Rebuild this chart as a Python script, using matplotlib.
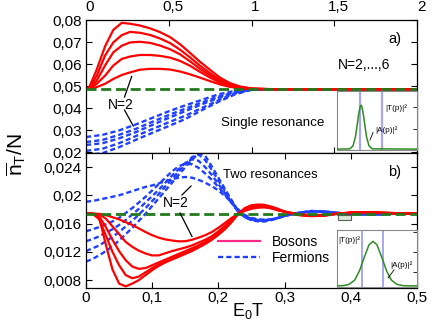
import matplotlib
matplotlib.use('Agg')
import matplotlib.pyplot as plt
import matplotlib.transforms as mtransforms
from matplotlib.lines import Line2D
from matplotlib.patches import Rectangle

plt.rcParams['font.family'] = ['Liberation Sans', 'DejaVu Sans']
plt.rcParams['mathtext.fontset'] = 'custom'
plt.rcParams['mathtext.rm'] = 'Liberation Sans'
plt.rcParams['mathtext.it'] = 'Liberation Sans'
plt.rcParams['mathtext.default'] = 'regular'

# ---------------- data: panel a) single resonance ----------------
top_base = 0.0485
top_red_x = [0, 0.02, 0.065, 0.115, 0.165, 0.216, 0.266, 0.326, 0.387, 0.447, 0.508, 0.568,
             0.629, 0.689, 0.75, 0.81, 0.87, 0.93, 1.0, 1.1, 1.3, 1.6, 2.0]
top_red_N2 = [0.0485, 0.0486, 0.0495, 0.0510, 0.0532, 0.0550, 0.0562, 0.0574, 0.0578, 0.0578, 0.0575, 0.0566,
              0.0553, 0.0538, 0.0522, 0.0507, 0.0496, 0.0490, 0.0486, 0.0485, 0.0485, 0.0485, 0.0485]
top_red_N3 = [0.0485, 0.0487, 0.0510, 0.0547, 0.0593, 0.0623, 0.0634, 0.0641, 0.0641, 0.0637, 0.0629, 0.0614,
              0.0592, 0.0564, 0.0538, 0.0515, 0.0500, 0.0491, 0.0487, 0.0485, 0.0485, 0.0485, 0.0485]
top_red_N4 = [0.0485, 0.0488, 0.0525, 0.0593, 0.0653, 0.0683, 0.0698, 0.0701, 0.0696, 0.0684, 0.0667, 0.0644,
              0.0612, 0.0578, 0.0548, 0.0522, 0.0504, 0.0493, 0.0487, 0.0486, 0.0485, 0.0485, 0.0485]
top_red_N5 = [0.0485, 0.0490, 0.0547, 0.0638, 0.0698, 0.0731, 0.0746, 0.0742, 0.0732, 0.0716, 0.0695, 0.0665,
              0.0630, 0.0592, 0.0558, 0.0528, 0.0507, 0.0495, 0.0488, 0.0486, 0.0485, 0.0485, 0.0485]
top_red_N6 = [0.0485, 0.0495, 0.0575, 0.0680, 0.0755, 0.0787, 0.0783, 0.0775, 0.0762, 0.0745, 0.0722, 0.0690,
              0.0650, 0.0610, 0.0573, 0.0538, 0.0513, 0.0498, 0.0489, 0.0486, 0.0485, 0.0485, 0.0485]

top_blue_x = [0, 0.1, 0.2, 0.3, 0.4, 0.5, 0.6, 0.7, 0.8, 0.9, 1.0, 1.1, 1.3, 1.6, 2.0]
top_blue_N2 = [0.0268, 0.0278, 0.0298, 0.0325, 0.0355, 0.0385, 0.0412, 0.0437, 0.0462, 0.0478, 0.0485, 0.0485, 0.0485, 0.0485, 0.0485]
top_blue_N3 = [0.0245, 0.0255, 0.0278, 0.0305, 0.0337, 0.0368, 0.0397, 0.0425, 0.0452, 0.0473, 0.0484, 0.0485, 0.0485, 0.0485, 0.0485]
top_blue_N4 = [0.0232, 0.0240, 0.0262, 0.0290, 0.0323, 0.0355, 0.0386, 0.0417, 0.0446, 0.0470, 0.0484, 0.0485, 0.0485, 0.0485, 0.0485]
top_blue_N5 = [0.0205, 0.0215, 0.0240, 0.0272, 0.0304, 0.0335, 0.0365, 0.0400, 0.0435, 0.0466, 0.0483, 0.0485, 0.0485, 0.0485, 0.0485]
top_blue_N6 = [0.0185, 0.0195, 0.0222, 0.0255, 0.0287, 0.0318, 0.0350, 0.0390, 0.0428, 0.0462, 0.0483, 0.0485, 0.0485, 0.0485, 0.0485]

# ---------------- data: panel b) two resonances ----------------
bot_base = 0.0174
bot_x = [0, 0.01, 0.02, 0.03, 0.04, 0.05, 0.06, 0.07, 0.08, 0.09,
         0.1, 0.11, 0.12, 0.13, 0.14, 0.15, 0.16, 0.17, 0.18, 0.19,
         0.2, 0.21, 0.22, 0.23, 0.24, 0.25, 0.26, 0.27, 0.28, 0.29,
         0.3, 0.32, 0.34, 0.36, 0.38, 0.4, 0.42, 0.44, 0.46, 0.48, 0.5]
bot_red_N2 = [0.0174, 0.0174, 0.01738, 0.0172, 0.0169, 0.0166, 0.0162, 0.0158, 0.0153, 0.0148,
              0.01435, 0.0140, 0.01375, 0.0136, 0.01348, 0.0135, 0.0137, 0.0140, 0.01435, 0.0148,
              0.0154, 0.0161, 0.0168, 0.0174, 0.0178, 0.0181, 0.01825, 0.0183, 0.01815, 0.0179,
              0.0177, 0.01735, 0.0172, 0.01725, 0.0174, 0.01748, 0.0175, 0.0175, 0.01745, 0.0174, 0.0174]
bot_red_N3 = [0.0174, 0.0174, 0.0173, 0.0167, 0.0156, 0.0145, 0.0134, 0.0127, 0.01215, 0.01176,
              0.01148, 0.0115, 0.0118, 0.0121, 0.01235, 0.0126, 0.0129, 0.0133, 0.0137, 0.0142,
              0.0149, 0.0157, 0.0166, 0.0174, 0.0179, 0.0182, 0.01835, 0.01835, 0.0182, 0.0179,
              0.0177, 0.0173, 0.0171, 0.01718, 0.0174, 0.01752, 0.01755, 0.01752, 0.01748, 0.01745, 0.01745]
bot_red_N4 = [0.0174, 0.0174, 0.0170, 0.0155, 0.0137, 0.0121, 0.0108, 0.0099, 0.00958, 0.0097,
              0.0101, 0.0105, 0.0109, 0.0113, 0.0117, 0.0121, 0.0125, 0.0129, 0.0134, 0.0140,
              0.0147, 0.0155, 0.0165, 0.0174, 0.0180, 0.0183, 0.0184, 0.01838, 0.0182, 0.0179,
              0.01765, 0.01725, 0.0171, 0.01715, 0.0174, 0.01755, 0.0176, 0.01755, 0.0175, 0.01745, 0.01745]
bot_red_N5 = [0.0174, 0.0174, 0.0166, 0.0143, 0.0120, 0.0101, 0.0087, 0.00825, 0.0085, 0.0091,
              0.0097, 0.0102, 0.0106, 0.0110, 0.0114, 0.0118, 0.0122, 0.0127, 0.0132, 0.0138,
              0.0145, 0.0153, 0.0163, 0.0174, 0.0181, 0.01845, 0.01855, 0.0185, 0.0183, 0.0180,
              0.0177, 0.01725, 0.01708, 0.01715, 0.0174, 0.01755, 0.0176, 0.01755, 0.0175, 0.01745, 0.01745]
bot_red_N6 = [0.0174, 0.0174, 0.0168, 0.0130, 0.0095, 0.0075, 0.0071, 0.0075, 0.0080, 0.0087,
              0.0094, 0.0100, 0.0105, 0.0109, 0.0113, 0.0117, 0.0121, 0.0126, 0.0131, 0.0137,
              0.0144, 0.0152, 0.0162, 0.0174, 0.0182, 0.0186, 0.0187, 0.01865, 0.0184, 0.0181,
              0.0177, 0.0172, 0.01705, 0.01712, 0.0174, 0.01758, 0.01762, 0.01757, 0.0175, 0.01745, 0.01745]

bot_blue_N2 = [0.0191, 0.0192, 0.0194, 0.0196, 0.0198, 0.0200, 0.0203, 0.0206, 0.0209, 0.0212,
               0.0214, 0.0217, 0.0220, 0.0223, 0.0225, 0.0226, 0.0225, 0.0222, 0.0218, 0.0213,
               0.0207, 0.0199, 0.0190, 0.0180, 0.0172, 0.0168, 0.0166, 0.01655, 0.0166, 0.0168,
               0.0171, 0.0175, 0.0177, 0.0177, 0.0175, 0.0174, 0.01735, 0.01735, 0.0174, 0.0174, 0.0174]
bot_blue_N3 = [0.0149, 0.0152, 0.0155, 0.0159, 0.0163, 0.0168, 0.0175, 0.0182, 0.0190, 0.0198,
               0.0207, 0.0216, 0.0225, 0.0234, 0.0241, 0.0245, 0.0244, 0.0239, 0.0231, 0.0222,
               0.0212, 0.0201, 0.0189, 0.0177, 0.0170, 0.0167, 0.0165, 0.0165, 0.0166, 0.0168,
               0.0171, 0.0175, 0.0177, 0.01768, 0.0175, 0.0174, 0.0173, 0.0173, 0.0174, 0.0174, 0.0174]
bot_blue_N4 = [0.0135, 0.0138, 0.0142, 0.0147, 0.0152, 0.0158, 0.0165, 0.0173, 0.0181, 0.0190,
               0.0199, 0.0208, 0.0218, 0.0228, 0.0237, 0.0246, 0.0251, 0.0249, 0.0240, 0.0229,
               0.0216, 0.0203, 0.0190, 0.0177, 0.0169, 0.0166, 0.0164, 0.0164, 0.0166, 0.0168,
               0.0171, 0.0175, 0.01772, 0.0177, 0.0175, 0.0174, 0.0173, 0.0173, 0.0174, 0.0174, 0.0174]
bot_blue_N5 = [0.0121, 0.0125, 0.0129, 0.0135, 0.0141, 0.0148, 0.0156, 0.0164, 0.0173, 0.0182,
               0.0192, 0.0202, 0.0213, 0.0223, 0.0234, 0.0244, 0.0254, 0.0258, 0.0250, 0.0236,
               0.0221, 0.0206, 0.0191, 0.0177, 0.0169, 0.0165, 0.0164, 0.0164, 0.0165, 0.0168,
               0.0171, 0.0175, 0.01775, 0.0177, 0.0175, 0.0174, 0.0173, 0.0173, 0.0174, 0.0174, 0.0174]
bot_blue_N6 = [0.0106, 0.0110, 0.0115, 0.0121, 0.0128, 0.0136, 0.0145, 0.0154, 0.0164, 0.0174,
               0.0185, 0.0196, 0.0207, 0.0218, 0.0229, 0.0240, 0.0250, 0.0260, 0.0256, 0.0241,
               0.0225, 0.0209, 0.0193, 0.0178, 0.0169, 0.0165, 0.0163, 0.0163, 0.0165, 0.0168,
               0.0171, 0.0175, 0.0178, 0.0177, 0.0175, 0.0174, 0.0173, 0.0173, 0.0174, 0.0174, 0.0174]

# ---------------- inset data (normalised p axis) ----------------
ins_a_x = [0, 0.16, 0.2, 0.23, 0.25, 0.27, 0.29, 0.3, 0.31, 0.33, 0.35, 0.37, 0.4, 0.44, 1.0]
ins_a_A = [0.015, 0.02, 0.07, 0.22, 0.40, 0.60, 0.74, 0.76, 0.74, 0.60, 0.40, 0.22, 0.07, 0.02, 0.015]
ins_a_res = [0.29, 0.56]
ins_b_x = [0, 0.08, 0.15, 0.22, 0.28, 0.34, 0.40, 0.45, 0.50, 0.56, 0.62, 0.68, 0.75, 0.82, 0.9, 1.0]
ins_b_A = [0.02, 0.025, 0.045, 0.12, 0.28, 0.52, 0.74, 0.80, 0.74, 0.52, 0.28, 0.12, 0.045, 0.025, 0.02, 0.02]
ins_b_res = [0.31, 0.58]

# ---------------- ticks ----------------
top_xticks = [0, 0.5, 1, 1.5, 2]
top_xlabels = ['0', '0,5', '1', '1,5', '2']
top_yticks = [0.02, 0.03, 0.04, 0.05, 0.06, 0.07, 0.08]
top_ylabels = ['0,02', '0,03', '0,04', '0,05', '0,06', '0,07', '0,08']
bot_xticks = [0, 0.1, 0.2, 0.3, 0.4, 0.5]
bot_xlabels = ['0', '0,1', '0,2', '0,3', '0,4', '0,5']
bot_yticks = [0.008, 0.012, 0.016, 0.02, 0.024]
bot_ylabels = ['0,008', '0,012', '0,016', '0,02', '0,024']

RED = '#ff0000'
BLUE = '#2040ff'
GREEN = '#237a1c'
PINK = '#ff2a88'
LAV = '#a6a6f5'

W, H = 436, 327
fig = plt.figure(figsize=(W / 100, H / 100), dpi=100)


def fx(px):
    return px / W


def fy(py):
    return 1 - py / H


L, R = 86, 417
ax1 = fig.add_axes([fx(L), fy(153), (R - L) / W, (153 - 20) / H])
ax2 = fig.add_axes([fx(L), fy(288), (R - L) / W, (288 - 153) / H])

blue_kw = dict(color=BLUE, lw=1.7, ls=(0, (2.2, 1.3)))
red_kw = dict(color=RED, lw=1.6)
green_kw = dict(color=GREEN, lw=2.0, ls=(0, (3.6, 1.7)), zorder=5)

for ys in [top_blue_N2, top_blue_N3, top_blue_N4, top_blue_N5, top_blue_N6]:
    ax1.plot(top_blue_x, ys, **blue_kw)
for ys in [top_red_N2, top_red_N3, top_red_N4, top_red_N5, top_red_N6]:
    ax1.plot(top_red_x, ys, **red_kw)
ax1.axhline(top_base, **green_kw)

for ys in [bot_blue_N2, bot_blue_N3, bot_blue_N4, bot_blue_N5, bot_blue_N6]:
    ax2.plot(bot_x, ys, **blue_kw)
for ys in [bot_red_N2, bot_red_N3, bot_red_N4, bot_red_N5, bot_red_N6]:
    ax2.plot(bot_x, ys, **red_kw)
ax2.axhline(bot_base, **green_kw)

ax1.set_xlim(0, 2)
ax1.set_ylim(0.01955, 0.08)
ax2.set_xlim(0, 0.5)
ax2.set_ylim(0.00687, 0.0260)

for ax in (ax1, ax2):
    for s in ax.spines.values():
        s.set_linewidth(0.9)

ax1.set_xticks(top_xticks, top_xlabels)
ax1.set_yticks(top_yticks, top_ylabels)
ax1.tick_params(axis='x', which='both', top=True, bottom=True, labeltop=True, labelbottom=False,
                direction='in', length=4, width=0.8, labelsize=11, pad=4)
ax1.tick_params(axis='y', left=True, right=True, direction='in', length=4, width=0.8,
                labelsize=11, pad=3)

ax2.set_xticks(bot_xticks, bot_xlabels)
ax2.set_yticks(bot_yticks, bot_ylabels)
ax2.tick_params(axis='x', top=True, bottom=True, direction='in', length=4, width=0.8,
                labelsize=11, pad=2)
ax2.tick_params(axis='y', left=True, right=True, direction='in', length=4, width=0.8,
                labelsize=11, pad=3)

# top tick labels sit a little right of their ticks in the original
off = mtransforms.ScaledTranslation(4 / 100, 0, fig.dpi_scale_trans)
for lbl in ax1.get_xticklabels():
    lbl.set_transform(lbl.get_transform() + off)

# legend
hdl = [Line2D([], [], color=PINK, lw=1.6), Line2D([], [], **blue_kw)]
ax2.legend(hdl, ['Bosons', 'Fermions'], loc='upper left',
           bbox_to_anchor=((218 - L) / (R - L), (288 - 235) / 135), frameon=False,
           fontsize=10, handlelength=3.0, handletextpad=0.85, labelspacing=0.12,
           borderpad=0, borderaxespad=0)

# texts
fig.text(fx(388), fy(39), 'a)', fontsize=10.5, va='center', ha='left')
fig.text(fx(338), fy(65), 'N=2,...,6', fontsize=10, va='center', ha='left')
fig.text(fx(221), fy(123), 'Single resonance', fontsize=9.6, va='center', ha='left')
fig.text(fx(108), fy(105), 'N=2', fontsize=10, va='center', ha='left')
fig.text(fx(388), fy(172), 'b)', fontsize=10.5, va='center', ha='left')
fig.text(fx(223), fy(175), 'Two resonances', fontsize=9.4, va='center', ha='left')
fig.text(fx(163), fy(203), 'N=2', fontsize=10, va='center', ha='left')

fig.text(fx(16), fy(155), r'$\overline{n}_T/N$', rotation=90, fontsize=15, va='center', ha='center')
fig.text(fx(248), fy(311), r'$E_0T$', fontsize=13, va='center', ha='center')


def seg(p, q, lw=0.9):
    fig.add_artist(Line2D([fx(p[0]), fx(q[0])], [fy(p[1]), fy(q[1])], color='black', lw=lw,
                          transform=fig.transFigure))


seg((124.5, 97), (131.7, 76.5))
seg((124.5, 110), (133.3, 126))
seg((182, 195), (191, 186))
seg((180, 213), (192, 236.5))

# small box in panel b
fig.add_artist(Rectangle((fx(338), fy(220)), 13 / W, 5 / H, transform=fig.transFigure,
                         facecolor='#dde8dd', edgecolor='#556655', lw=0.8))

# insets
ia = fig.add_axes([fx(337), fy(150), (R - 337) / W, (150 - 91) / H])
ia.plot(ins_a_x, ins_a_A, color='#2e8b22', lw=1.1, zorder=3)
for r in ins_a_res:
    ia.axvline(r, color=LAV, lw=1.6, zorder=2)
ia.set_xlim(0, 1)
ia.set_ylim(0, 1)
ia.set_xticks([])
ia.set_yticks([0.36, 0.73])
ia.tick_params(axis='y', left=False, right=True, labelleft=False, direction='in', length=3, width=0.6)
for s in ia.spines.values():
    s.set_color('#888888')
    s.set_linewidth(0.8)

ib = fig.add_axes([fx(337), fy(287), (R - 337) / W, (287 - 230) / H])
ib.plot(ins_b_x, ins_b_A, color='#2e8b22', lw=1.1, zorder=3)
for r in ins_b_res:
    ib.axvline(r, color=LAV, lw=1.4, zorder=2)
ib.set_xlim(0, 1)
ib.set_ylim(0, 1)
ib.set_xticks([])
ib.set_yticks([0.27, 0.62, 0.97])
ib.tick_params(axis='y', left=False, right=True, labelleft=False, direction='in', length=3, width=0.6)
for s in ib.spines.values():
    s.set_color('#888888')
    s.set_linewidth(0.8)

fig.text(fx(385), fy(108), '|T(p)|²', fontsize=5.8, va='center', ha='left')
fig.text(fx(375), fy(130), '|A(p)|²', fontsize=5.8, va='center', ha='left')
seg((373, 132.5), (370, 140), lw=0.6)
fig.text(fx(338), fy(240), '|T(p)|²', fontsize=5.8, va='center', ha='left')
fig.text(fx(390), fy(265), '|A(p)|²', fontsize=5.8, va='center', ha='left')
seg((394, 270), (388, 278), lw=0.6)

fig.savefig('out.png', dpi=100)
